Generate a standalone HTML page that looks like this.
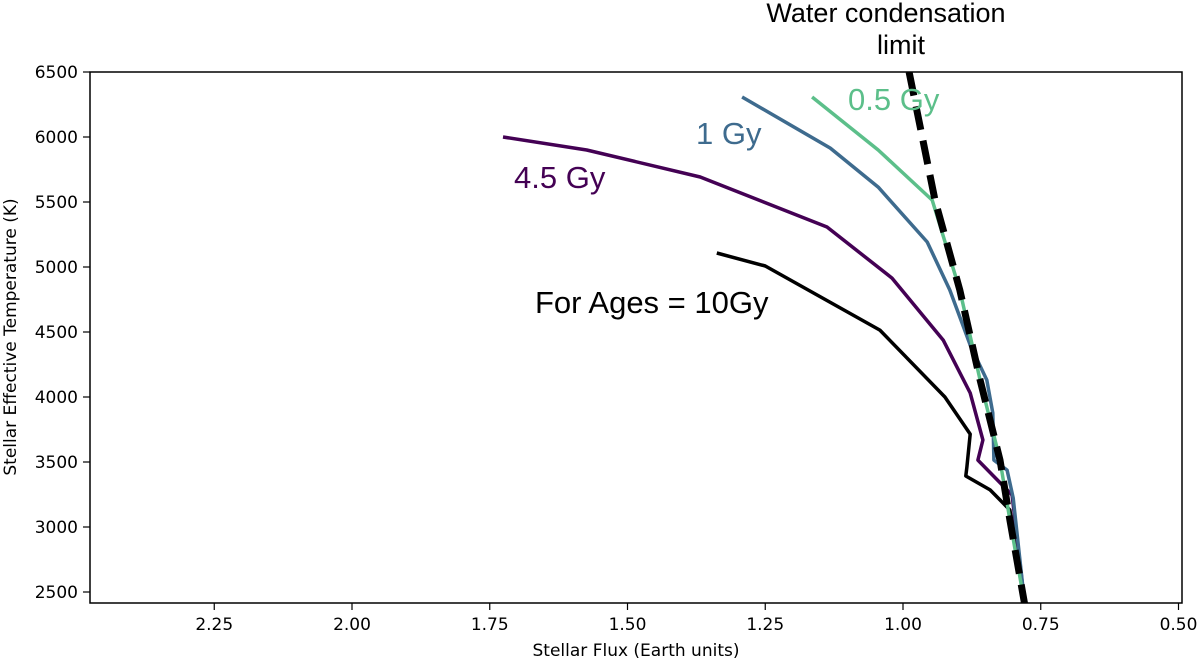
<!DOCTYPE html>
<html><head><meta charset="utf-8"><style>
body{margin:0;background:#fff;}
svg text{font-family:"DejaVu Sans","Liberation Sans",sans-serif;}
svg text.ann{font-family:"Liberation Sans",sans-serif;}
</style></head><body>
<svg id="c" width="1200" height="661" viewBox="0 0 1200 661">
<g id="marks"></g>
<rect x="90" y="72" width="1092" height="531" fill="none" stroke="#000" stroke-width="1.5"/>
<g id="ticks"></g>
<text x="636" y="656" font-size="17" text-anchor="middle">Stellar Flux (Earth units)</text>
<text transform="translate(16,337) rotate(-90)" font-size="17" text-anchor="middle">Stellar Effective Temperature (K)</text>
<text class="ann" x="886" y="22" font-size="27" text-anchor="middle">Water condensation</text>
<text class="ann" x="901" y="54" font-size="27" text-anchor="middle">limit</text>
<text class="ann" x="848" y="110" font-size="31" fill="#5cbf8a">0.5 Gy</text>
<text class="ann" x="696" y="144" font-size="31" fill="#3e6b8e">1 Gy</text>
<text class="ann" x="514" y="188" font-size="31" fill="#440154">4.5 Gy</text>
<text class="ann" x="535" y="313" font-size="31" fill="#000">For Ages = 10Gy</text>
</svg>
<script>
const xTicks=[2.25,2.00,1.75,1.50,1.25,1.00,0.75,0.50];
const yTicks=[2500,3000,3500,4000,4500,5000,5500,6000,6500];
const flux10=[1.338,1.250,1.042,0.924,0.878,0.884,0.886,0.842,0.806,0.779];
const temp10=[5108,5008,4515,4000,3715,3462,3392,3285,3131,2400];
const flux45=[1.726,1.574,1.368,1.138,1.020,0.927,0.878,0.855,0.864,0.802,0.779];
const temp45=[6000,5900,5692,5308,4915,4438,4031,3669,3515,3246,2400];
const flux1=[1.292,1.132,1.045,0.956,0.915,0.878,0.848,0.837,0.835,0.811,0.800,0.779];
const temp1=[6308,5915,5615,5192,4823,4400,4131,3877,3515,3438,3223,2400];
const flux05=[1.165,1.045,0.947,0.897,0.860,0.824,0.806,0.779];
const temp05=[6308,5900,5515,4823,4131,3515,3054,2400];
const fluxW=[0.989,0.942,0.897,0.860,0.824,0.806,0.779];
const tempW=[6500,5515,4823,4131,3515,3054,2400];
const NS='http://www.w3.org/2000/svg';
function X(v){return 903+(1-v)*551;}
function Y(v){return 72+(6500-v)*0.13;}
const marks=document.getElementById('marks'), ticks=document.getElementById('ticks');
function line(fx,ty,color,w,name,dash){
  const p=document.createElementNS(NS,'polyline');
  p.setAttribute('points',fx.map((f,i)=>X(f).toFixed(1)+','+Y(ty[i]).toFixed(1)).join(' '));
  p.setAttribute('fill','none');p.setAttribute('stroke',color);p.setAttribute('stroke-width',w);
  p.setAttribute('stroke-linejoin','round');
  if(dash)p.setAttribute('stroke-dasharray',dash);
  
  
  marks.appendChild(p);
}
const cp=document.createElementNS(NS,'clipPath');cp.id='clip';
const cr=document.createElementNS(NS,'rect');cr.setAttribute('x',90);cr.setAttribute('y',72);cr.setAttribute('width',1092);cr.setAttribute('height',531);
cp.appendChild(cr);document.getElementById('c').appendChild(cp);
marks.setAttribute('clip-path','url(#clip)');
line(flux10,temp10,'#000',3.5,'series-10gy');
line(flux45,temp45,'#440154',3.5,'series-4.5gy');
line(flux1,temp1,'#3e6b8e',3.5,'series-1gy');
line(flux05,temp05,'#5cbf8a',3.5,'series-0.5gy');
line(fluxW,tempW,'#000',7,'water-condensation-limit','24,11');
xTicks.forEach(v=>{
  const l=document.createElementNS(NS,'line');
  l.setAttribute('x1',X(v));l.setAttribute('x2',X(v));l.setAttribute('y1',603);l.setAttribute('y2',610);l.setAttribute('stroke','#000');l.setAttribute('stroke-width',1.2);
  
  
  ticks.appendChild(l);
  const t=document.createElementNS(NS,'text');
  t.setAttribute('x',X(v));t.setAttribute('y',630);t.setAttribute('font-size',17);t.setAttribute('text-anchor','middle');
  t.textContent=v.toFixed(2);
  
  
  ticks.appendChild(t);
});
yTicks.forEach(v=>{
  const l=document.createElementNS(NS,'line');
  l.setAttribute('x1',83);l.setAttribute('x2',90);l.setAttribute('y1',Y(v));l.setAttribute('y2',Y(v));l.setAttribute('stroke','#000');l.setAttribute('stroke-width',1.2);
  
  
  ticks.appendChild(l);
  const t=document.createElementNS(NS,'text');
  t.setAttribute('x',78);t.setAttribute('y',Y(v)+6);t.setAttribute('font-size',17);t.setAttribute('text-anchor','end');
  t.textContent=v;
  
  
  ticks.appendChild(t);
});
</script>
</body></html>
